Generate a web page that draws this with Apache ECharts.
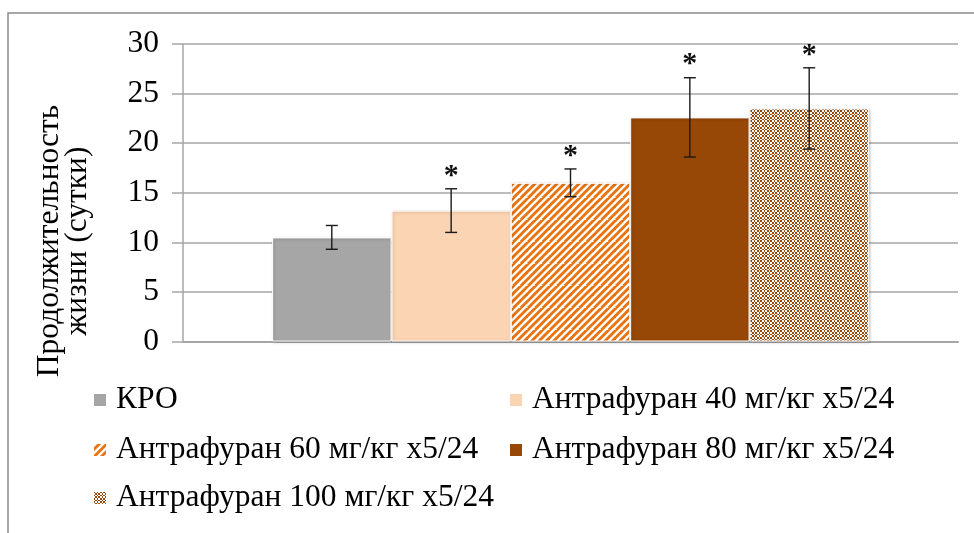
<!DOCTYPE html>
<html>
<head>
<meta charset="utf-8">
<script src="https://cdn.jsdelivr.net/npm/echarts@6/dist/echarts.min.js"></script>
<style>
  html, body { margin: 0; padding: 0; background: #fff; }
  #chart { width: 974px; height: 533px; }
</style>
</head>
<body>
<div id="chart"></div>
<script>
// Survival time by treatment group (mean ± error), "*" marks significant groups
const groups = [
  'КРО',
  'Антрафуран 40 мг/кг x5/24',
  'Антрафуран 60 мг/кг x5/24',
  'Антрафуран 80 мг/кг x5/24',
  'Антрафуран 100 мг/кг x5/24'
];
const means = [10.5, 13.2, 16.0, 22.6, 23.5];
const errors = [1.2, 2.2, 1.4, 4.0, 4.1];
const marks = ['', '*', '*', '*', '*'];
const yTicks = { min: 0, max: 30, step: 5 };
const yTitle = ['Продолжительность', 'жизни (сутки)'];

const FONT = "'Liberation Serif', 'Times New Roman', serif";
const FONT_SIZE = 31.5;
const GAP_PCT = 0.23;

// Small checkerboard tile
function checkerTile(color) {
  const sizes = [2, 2, 1, 2, 2, 1];
  const T = sizes.reduce((a, b) => a + b, 0);
  const c = document.createElement('canvas');
  c.width = T; c.height = T;
  const g = c.getContext('2d');
  g.fillStyle = '#fff'; g.fillRect(0, 0, T, T);
  g.fillStyle = color;
  let y = 0;
  sizes.forEach((h, j) => {
    let x = 0;
    sizes.forEach((w, i) => {
      if ((i + j) % 2 === 0) g.fillRect(x, y, w, h);
      x += w;
    });
    y += h;
  });
  return c;
}

// Wide upward diagonal hatch drawn line by line (x + y = const)
function diagTile(color) {
  const T = 22, c = document.createElement('canvas');
  c.width = T; c.height = T;
  const g = c.getContext('2d');
  g.fillStyle = '#fff'; g.fillRect(0, 0, T, T);
  g.strokeStyle = color; g.lineWidth = 2.8;
  const p = T / 3;
  for (let k = -1; k <= 7; k++) {
    const s = k * p;
    g.beginPath(); g.moveTo(s + T, -T); g.lineTo(s - T, T); g.stroke();
  }
  return c;
}

const fills = [
  '#a6a6a6',
  '#fbd4b3',
  { image: diagTile('#e8730f'), repeat: 'repeat' },
  '#974706',
  { image: checkerTile('#9a4a0a'), repeat: 'repeat' }
];

const chart = echarts.init(document.getElementById('chart'), null, { renderer: 'canvas' });

const barSeries = groups.map((name, i) => ({
  name,
  type: 'bar',
  data: [means[i]],
  barGap: '0%',
  barCategoryGap: (GAP_PCT * 100) + '%',
  itemStyle: {
    color: fills[i],
    borderColor: '#ffffff',
    borderWidth: 1,
    shadowColor: 'rgba(0,0,0,0.22)',
    shadowBlur: 3,
    shadowOffsetX: 1,
    shadowOffsetY: 1
  },
  emphasis: { disabled: true }
}));

const errorSeries = {
  type: 'custom',
  name: 'errors',
  z: 10,
  clip: false,
  data: means.map((m, i) => [0, m, errors[i], i]),
  renderItem(params, api) {
    const idx = api.value(3);
    const m = api.value(1), e = api.value(2);
    const c = api.coord([0, m]);
    const band = api.size([1, 0])[0];
    const total = band * (1 - GAP_PCT);
    const bw = total / groups.length;
    const cx = c[0] - total / 2 + (idx + 0.5) * bw;
    const top = api.coord([0, m + e])[1];
    const bot = api.coord([0, m - e])[1];
    const cap = 6;
    const st = { stroke: '#1a1a1a', lineWidth: 1.4 };
    const children = [
      { type: 'line', shape: { x1: cx, y1: top, x2: cx, y2: bot }, style: st },
      { type: 'line', shape: { x1: cx - cap, y1: top, x2: cx + cap, y2: top }, style: st },
      { type: 'line', shape: { x1: cx - cap, y1: bot, x2: cx + cap, y2: bot }, style: st }
    ];
    if (marks[idx]) {
      children.push({
        type: 'text',
        x: cx, y: top + 2,
        style: {
          text: marks[idx],
          font: 'bold 30px ' + FONT,
          fill: '#111',
          align: 'center',
          verticalAlign: 'bottom'
        }
      });
    }
    return { type: 'group', children };
  }
};

// One legend block per group: two columns, three rows
const legendPos = [
  { left: 92, top: 384 },
  { left: 508, top: 384 },
  { left: 92, top: 434 },
  { left: 508, top: 434 },
  { left: 92, top: 482 }
];
const legends = groups.map((name, i) => ({
  data: [name],
  left: legendPos[i].left,
  top: legendPos[i].top,
  orient: 'horizontal',
  padding: 0,
  icon: 'rect',
  itemWidth: 14,
  itemHeight: 14,
  selectedMode: false,
  textStyle: {
    fontFamily: FONT,
    fontSize: FONT_SIZE,
    color: '#000',
    lineHeight: 32,
    padding: [0, 0, 0, 4]
  }
}));

chart.setOption({
  animation: false,
  backgroundColor: '#fff',
  grid: { left: 183, right: 16, top: 44, bottom: 191.5 },
  xAxis: {
    type: 'category',
    data: [''],
    axisLine: { show: true, lineStyle: { color: '#a6a6a6', width: 2 } },
    axisTick: { show: false },
    axisLabel: { show: false },
    splitLine: { show: false }
  },
  yAxis: {
    type: 'value',
    min: yTicks.min,
    max: yTicks.max,
    interval: yTicks.step,
    axisLine: { show: true, lineStyle: { color: '#a6a6a6', width: 1.5 } },
    axisTick: { show: true, length: 11, lineStyle: { color: '#a6a6a6', width: 1.5 } },
    axisLabel: { fontFamily: FONT, fontSize: FONT_SIZE, color: '#000', margin: 24 },
    splitLine: { show: true, lineStyle: { color: '#a6a6a6', width: 1.5 } }
  },
  legend: legends,
  series: [...barSeries, errorSeries],
  graphic: [
    {
      type: 'rect',
      shape: { x: 8, y: 13, width: 1000, height: 600 },
      style: { fill: 'none', stroke: '#8c8c8c', lineWidth: 1.5 },
      silent: true
    },
    {
      type: 'text',
      x: 64, y: 241,
      rotation: Math.PI / 2,
      style: {
        text: yTitle.join('\n'),
        font: FONT_SIZE + 'px ' + FONT,
        lineHeight: 28,
        fill: '#000',
        align: 'center',
        verticalAlign: 'middle'
      },
      silent: true
    }
  ]
});
</script>
</body>
</html>
